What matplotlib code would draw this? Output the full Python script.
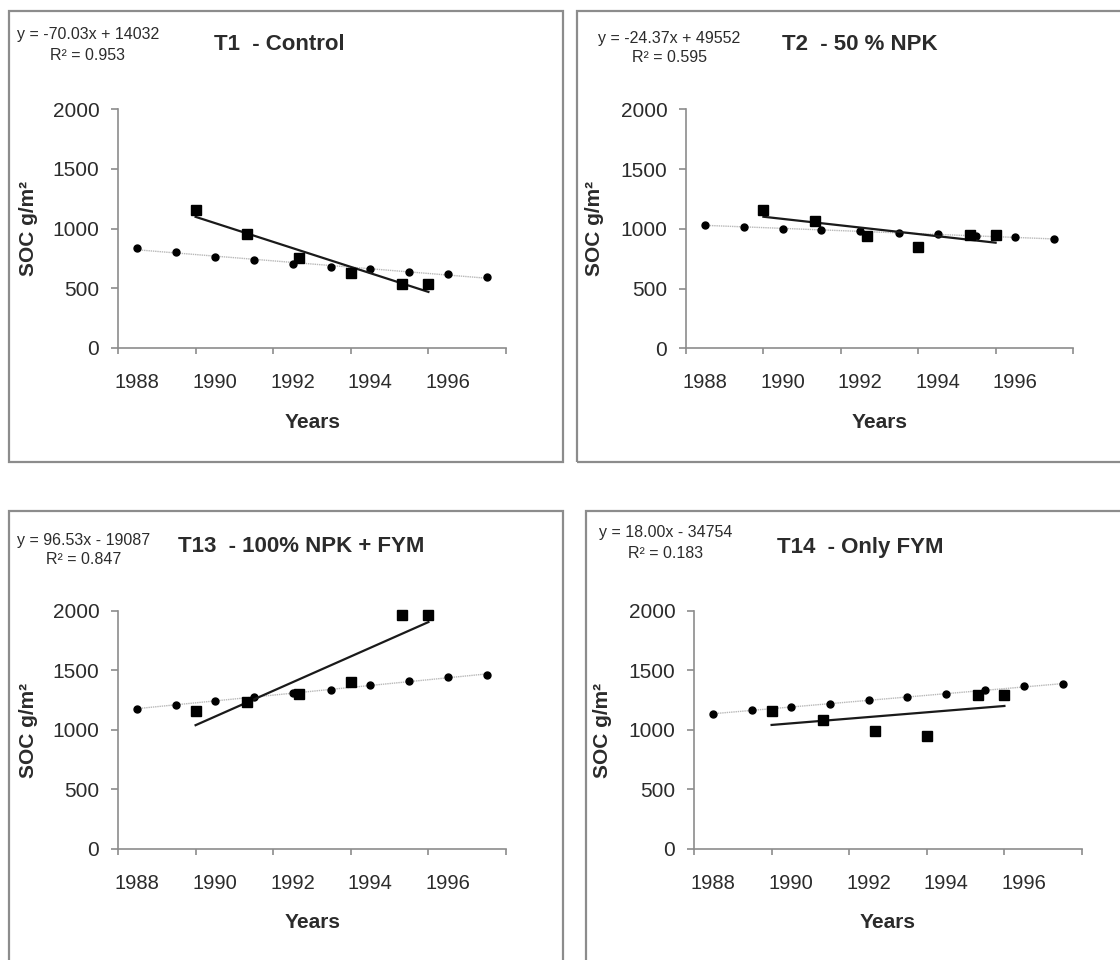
import numpy as np
import matplotlib
matplotlib.use("Agg")
import matplotlib.pyplot as plt
from matplotlib.patches import Rectangle

plt.rcParams['font.family'] = ['Liberation Sans', 'DejaVu Sans']

# ---------------- data ----------------
years_model = [1988, 1989, 1990, 1991, 1992, 1993, 1994, 1995, 1996, 1997]
years_obs = [1989.5, 1990.83, 1992.17, 1993.5, 1994.83, 1995.5]
year_labels = [1988, 1990, 1992, 1994, 1996]
y_ticks = [0, 500, 1000, 1500, 2000]

titles = ["T1  - Control", "T2  - 50 % NPK", "T13  - 100% NPK + FYM", "T14  - Only FYM"]
equations = ["y = -70.03x + 14032", "y = -24.37x + 49552",
             "y = 96.53x - 19087", "y = 18.00x - 34754"]
r2_texts = ["R² = 0.953", "R² = 0.595", "R² = 0.847", "R² = 0.183"]

t1_model = [836, 800, 764, 736, 702, 680, 657, 635, 618, 593]
t1_obs = [1155, 951, 755, 629, 534, 534]
t2_model = [1029, 1015, 1001, 993, 982, 962, 954, 943, 929, 912]
t2_obs = [1158, 1066, 940, 848, 948, 946]
t13_model = [1178, 1208, 1245, 1278, 1306, 1337, 1373, 1407, 1443, 1463]
t13_obs = [1161, 1231, 1301, 1404, 1963, 1963]
t14_model = [1133, 1166, 1192, 1217, 1250, 1276, 1303, 1334, 1365, 1382]
t14_obs = [1158, 1080, 993, 951, 1289, 1289]

models = [t1_model, t2_model, t13_model, t14_model]
observed = [t1_obs, t2_obs, t13_obs, t14_obs]

# ---------------- layout (pixels) ----------------
W, H = 1120, 960
fig = plt.figure(figsize=(W / 100, H / 100), dpi=100)

def fx(px):
    return px / W

def fy(py):
    return 1 - py / H

# axes: (x_left, x_right, y_zero, y_top)
axes_px = [(118, 506, 347.7, 109.3), (686, 1073, 348.3, 109.3),
           (118, 506, 849, 610.7), (694, 1082, 849, 610.7)]
# borders: (left, top, right, bottom)
borders = [(9, 11, 563, 462), (577, 11, 1130, 462),
           (9, 511, 563, 975), (586, 511, 1130, 975)]
title_pos = [(279, 45), (860, 45), (301, 547), (860, 547)]
eq_pos = [(88, 35), (669, 38), (84, 540), (666, 533)]
r2_pos = [(88, 55), (669, 58), (84, 559), (666, 553)]
ylab_pos = [(28, 228), (595, 228), (28, 730), (603, 730)]
xlab_pos = [(313, 423), (880, 423), (313, 923), (888, 923)]

axis_gray = '#8c8c8c'
text_col = '#2b2b2b'

for i in range(4):
    bl, bt, br, bb = borders[i]
    fig.patches.append(Rectangle((fx(bl), fy(bb)), fx(br - bl), (bb - bt) / H,
                                 transform=fig.transFigure, fill=False,
                                 edgecolor=axis_gray, linewidth=1.6, zorder=0))

    x0, x1, yz, yt = axes_px[i]
    ax = fig.add_axes([fx(x0), fy(yz), fx(x1 - x0), (yz - yt) / H])
    ax.set_xlim(1987.5, 1997.5)
    ax.set_ylim(0, 2000)
    for s in ['top', 'right']:
        ax.spines[s].set_visible(False)
    for s in ['left', 'bottom']:
        ax.spines[s].set_color(axis_gray)
        ax.spines[s].set_linewidth(1.2)
    ax.patch.set_alpha(0)

    # x ticks: marks at odd half positions, labels at even years
    ax.set_xticks([1987.5 + 2 * k for k in range(6)])
    ax.set_xticklabels([])
    ax.set_xticks(year_labels, minor=True)
    ax.set_xticklabels([str(v) for v in year_labels], minor=True)
    ax.tick_params(axis='x', which='major', length=4.5, width=1.2, color=axis_gray, direction='out')
    ax.tick_params(axis='x', which='minor', length=0, pad=18, labelsize=14.5, labelcolor=text_col)
    ax.set_yticks(y_ticks)
    ax.set_yticklabels([str(v) for v in y_ticks])
    ax.tick_params(axis='y', length=5, width=1.2, color=axis_gray, direction='out',
                   pad=8.5, labelsize=15, labelcolor=text_col)

    xm = np.array(years_model, dtype=float)
    ym = np.array(models[i], dtype=float)
    xo = np.array(years_obs, dtype=float)
    yo = np.array(observed[i], dtype=float)

    pm = np.polyfit(xm, ym, 1)
    po = np.polyfit(xo, yo, 1)
    xm_line = np.array([xm.min(), xm.max()])
    xo_line = np.array([xo.min(), xo.max()])

    ax.plot(xm_line, np.polyval(pm, xm_line), color='#b8b8b8', lw=1.0,
            linestyle=(0, (1, 0.6)), zorder=2, clip_on=False)
    ax.plot(xm, ym, 'o', color='black', markersize=5, zorder=3, clip_on=False)
    ax.plot(xo_line, np.polyval(po, xo_line), color='#1a1a1a', lw=1.6, zorder=4, clip_on=False)
    ax.plot(xo, yo, 's', color='black', markersize=6.5, zorder=5, clip_on=False)

    tx, ty = title_pos[i]
    fig.text(fx(tx), fy(ty), titles[i], ha='center', va='center',
             fontsize=16, fontweight='bold', color=text_col)
    ex, ey = eq_pos[i]
    fig.text(fx(ex), fy(ey), equations[i], ha='center', va='center',
             fontsize=11.5, color=text_col)
    rx, ry = r2_pos[i]
    fig.text(fx(rx), fy(ry), r2_texts[i], ha='center', va='center',
             fontsize=11.5, color=text_col)
    lx, ly = ylab_pos[i]
    fig.text(fx(lx), fy(ly), 'SOC g/m²', ha='center', va='center',
             rotation=90, fontsize=15, fontweight='bold', color=text_col)
    yx, yy = xlab_pos[i]
    fig.text(fx(yx), fy(yy), 'Years', ha='center', va='center',
             fontsize=15, fontweight='bold', color=text_col)

fig.savefig('out.png', dpi=100, facecolor='white')
